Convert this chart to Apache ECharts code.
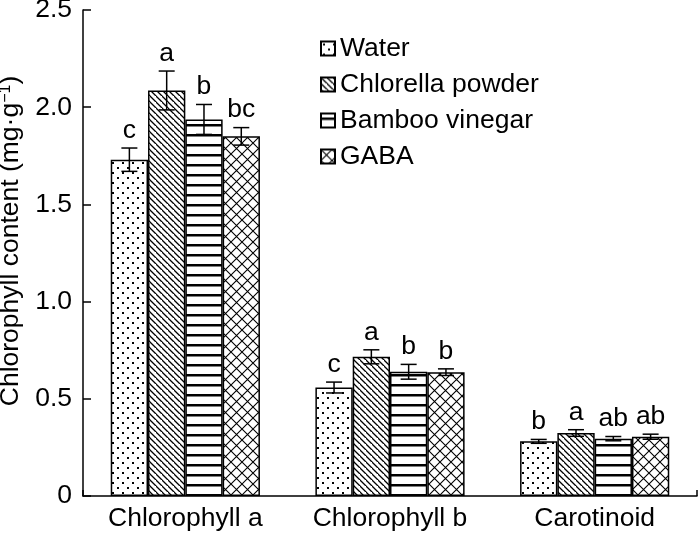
<!DOCTYPE html>
<html>
<head>
<meta charset="utf-8">
<script src="https://cdn.jsdelivr.net/npm/echarts@6/dist/echarts.min.js"></script>
<style>html,body{margin:0;padding:0;background:#fff}#c{width:700px;height:534px}</style>
</head>
<body>
<div id="c"></div>
<script>
var categories = ['Chlorophyll a', 'Chlorophyll b', 'Carotinoid'];
var seriesNames = ['Water', 'Chlorella powder', 'Bamboo vinegar', 'GABA'];
var water = [1.730, 0.558, 0.281];
var waterErr = [0.060, 0.028, 0.010];
var waterSig = ['c', 'c', 'b'];
var chlorella = [2.086, 0.716, 0.324];
var chlorellaErr = [0.100, 0.036, 0.017];
var chlorellaSig = ['a', 'a', 'a'];
var bamboo = [1.937, 0.639, 0.295];
var bambooErr = [0.077, 0.038, 0.011];
var bambooSig = ['b', 'b', 'ab'];
var gaba = [1.850, 0.637, 0.305];
var gabaErr = [0.045, 0.017, 0.013];
var gabaSig = ['bc', 'b', 'ab'];
var yTicks = ['0', '0.5', '1.0', '1.5', '2.0', '2.5'];

var FONT = '"Liberation Sans", Arial, sans-serif';
var FS = 26.5;
var CAT_GAP = 0.271;

function mk(w, h, draw) {
  var c = document.createElement('canvas');
  c.width = w; c.height = h;
  var g = c.getContext('2d');
  g.fillStyle = '#fff'; g.fillRect(0, 0, w, h);
  g.fillStyle = '#000'; g.strokeStyle = '#000';
  draw(g, w, h);
  return {image: c, repeat: 'repeat'};
}
var patDots = mk(10, 10, function (g) {
  g.fillRect(2, 2, 2, 2);
  g.fillRect(7, 7, 2, 2);
});
var patDiag = mk(6, 6, function (g, w, h) {
  g.lineWidth = 1.3;
  g.beginPath();
  g.moveTo(-1, -1); g.lineTo(w + 1, h + 1);
  g.moveTo(-w - 1, -1); g.lineTo(1, h + 1);
  g.moveTo(w - 1, -h - 1); g.lineTo(2 * w + 1, h + 1);
  g.stroke();
});
var patHoriz = mk(10, 10, function (g) {
  g.fillRect(0, 4, 10, 2.5);
});
var patCross = mk(11, 11, function (g, w, h) {
  g.lineWidth = 1.1;
  g.beginPath();
  g.moveTo(0, 0); g.lineTo(w, h);
  g.moveTo(w, 0); g.lineTo(0, h);
  g.stroke();
});
var patterns = [patDots, patDiag, patHoriz, patCross];
var values = [water, chlorella, bamboo, gaba];
var errs = [waterErr, chlorellaErr, bambooErr, gabaErr];
var sigs = [waterSig, chlorellaSig, bambooSig, gabaSig];

var series = [];
values.forEach(function (vals, i) {
  series.push({
    name: seriesNames[i],
    type: 'bar',
    data: vals,
    barGap: 0,
    barCategoryGap: (CAT_GAP * 100) + '%',
    itemStyle: {color: patterns[i], borderColor: '#000', borderWidth: 1.5},
    emphasis: {disabled: true}
  });
});
values.forEach(function (vals, i) {
  var data = vals.map(function (v, k) { return [k, v, errs[i][k], sigs[i][k]]; });
  series.push({
    type: 'custom',
    name: 'err' + i,
    data: data,
    encode: {x: 0, y: 1},
    z: 10,
    renderItem: function (params, api) {
      var k = api.value(0), v = api.value(1), e = api.value(2);
      var s = data[params.dataIndex][3];
      var catW = api.size([1, 0])[0];
      var bw = catW * (1 - CAT_GAP) / 4;
      var c = api.coord([k, v]);
      var x = c[0] + (i - 1.5) * bw;
      var top = api.coord([k, v + e])[1];
      var bot = api.coord([k, v - e])[1];
      var cap = 8;
      var st = {stroke: '#000', lineWidth: 1.5, fill: null};
      return {
        type: 'group',
        children: [
          {type: 'line', shape: {x1: x, y1: top, x2: x, y2: bot}, style: st},
          {type: 'line', shape: {x1: x - cap, y1: top, x2: x + cap, y2: top}, style: st},
          {type: 'line', shape: {x1: x - cap, y1: bot, x2: x + cap, y2: bot}, style: st},
          {type: 'text', x: x, y: top - 4, style: {text: s, fill: '#000', font: FS + 'px ' + FONT, textAlign: 'center', textVerticalAlign: 'bottom'}}
        ]
      };
    }
  });
});

var chart = echarts.init(document.getElementById('c'), null, {renderer: 'canvas'});
chart.setOption({
  animation: false,
  backgroundColor: '#fff',
  textStyle: {fontFamily: FONT},
  grid: {left: 83, right: 3, top: 10, bottom: 38, containLabel: false, outerBoundsMode: 'none'},
  legend: {
    data: seriesNames,
    orient: 'vertical',
    left: 320,
    top: 35,
    padding: 0,
    itemWidth: 14,
    itemHeight: 14,
    itemGap: 9,
    icon: 'rect',
    selectedMode: false,
    textStyle: {fontSize: FS, color: '#000', fontFamily: FONT}
  },
  xAxis: [{
    type: 'category',
    data: categories,
    axisLine: {lineStyle: {color: '#000', width: 1.5}},
    axisTick: {show: false},
    axisLabel: {color: '#000', fontSize: FS, fontFamily: FONT, margin: 9}
  }, {
    type: 'value',
    position: 'bottom',
    min: 0, max: 1, interval: 1,
    axisLine: {show: false},
    axisTick: {show: true, inside: true, length: 6, lineStyle: {color: '#000', width: 1.5}},
    axisLabel: {show: false},
    splitLine: {show: false}
  }],
  yAxis: {
    type: 'value',
    min: 0, max: 2.5, interval: 0.5,
    name: 'Chlorophyll content (mg·g{sup|−1})',
    nameLocation: 'middle',
    nameGap: 56,
    nameTextStyle: {color: '#000', fontSize: FS, fontFamily: FONT, padding: [0, 0, 0, 24],
      rich: {sup: {fontSize: 16, fontFamily: FONT, color: '#000', padding: [0, 0, 10, 0]}}},
    splitLine: {show: false},
    axisLine: {show: true, lineStyle: {color: '#000', width: 1.5}},
    axisTick: {show: true, inside: true, length: 8, lineStyle: {color: '#000', width: 1.5}},
    axisLabel: {color: '#000', fontSize: FS, fontFamily: FONT, margin: 11,
      formatter: function (v) { return yTicks[Math.round(v / 0.5)]; }}
  },
  series: series
});
</script>
</body>
</html>
